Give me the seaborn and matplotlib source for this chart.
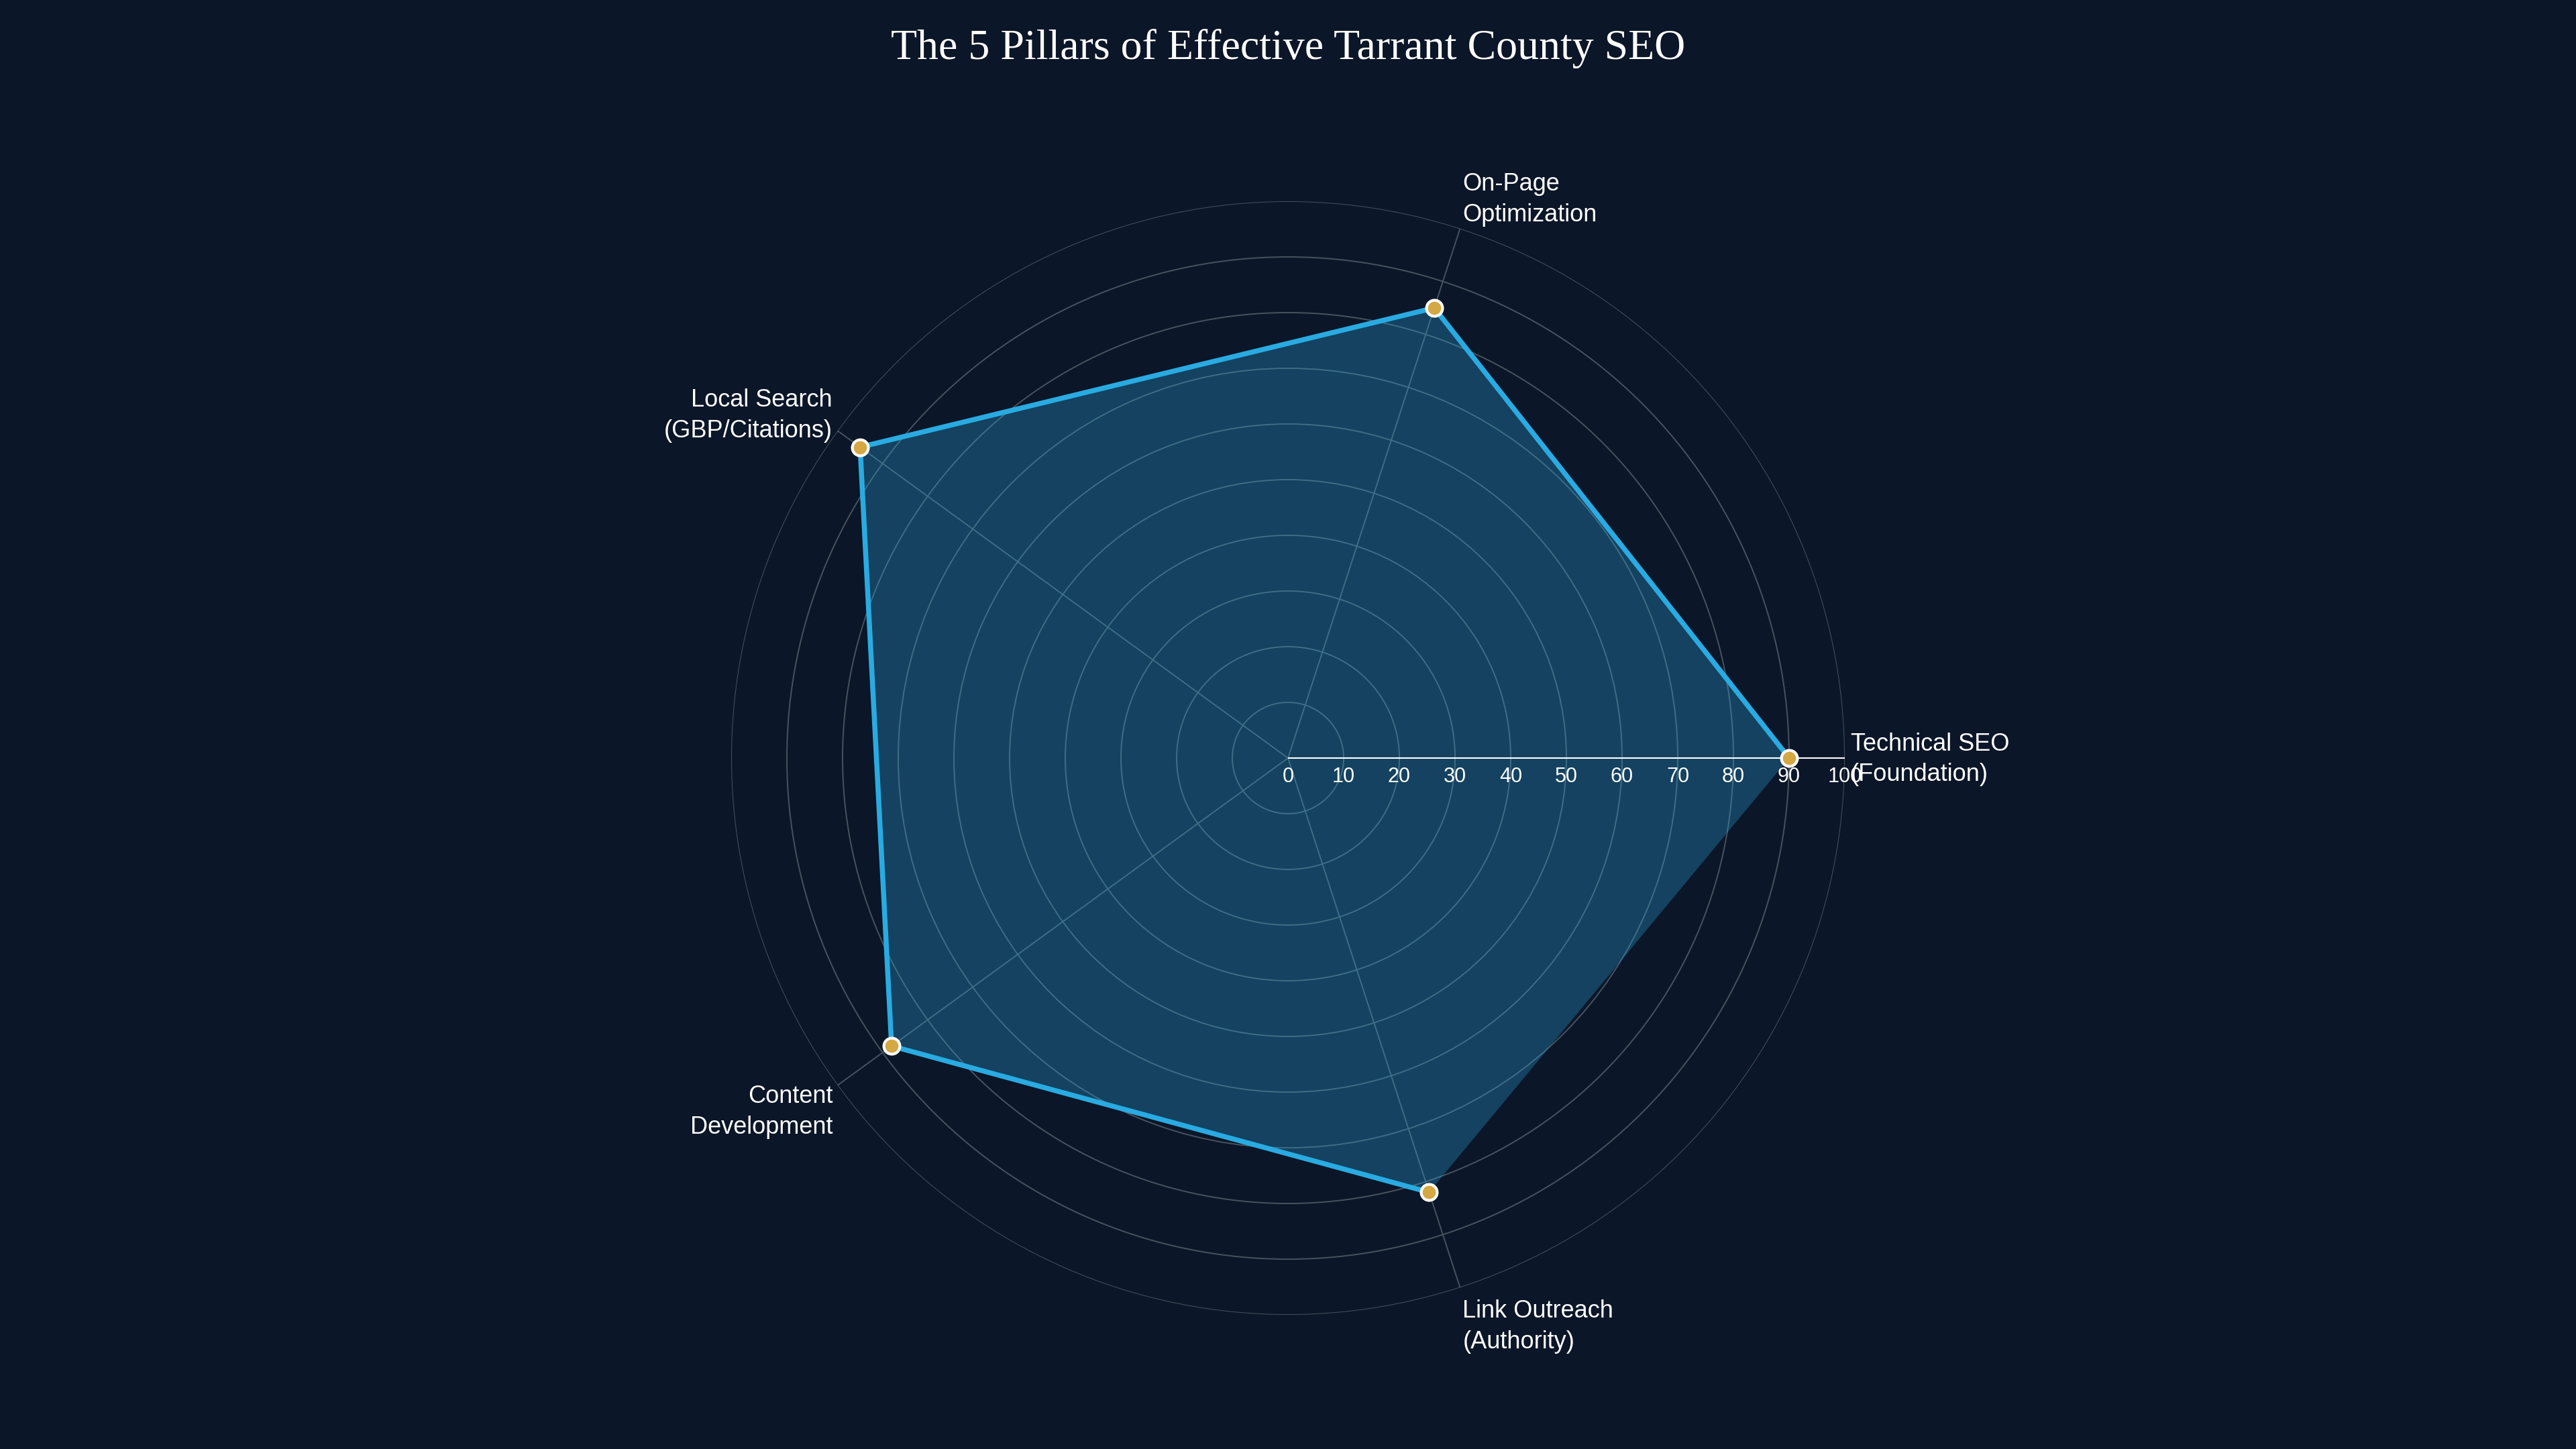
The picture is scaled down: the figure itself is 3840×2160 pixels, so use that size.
import numpy as np
import pandas as pd
import matplotlib
matplotlib.use("Agg")
import matplotlib.pyplot as plt
import seaborn as sns

# ---------------- data ----------------
categories = [
    "Technical SEO\n(Foundation)",
    "On-Page\nOptimization",
    "Local Search\n(GBP/Citations)",
    "Content\nDevelopment",
    "Link Outreach\n(Authority)",
]
scores = [90, 85, 95, 88, 82]
radial_ticks = [0, 10, 20, 30, 40, 50, 60, 70, 80, 90, 100]
title = "The 5 Pillars of Effective Tarrant County SEO"

# ---------------- style ----------------
BG = "#0b1628"
LINE = "#29abe2"
GOLD = "#d4a843"
GRID = "#48535f"

sns.set_theme(style="dark", rc={"axes.facecolor": BG, "figure.facecolor": BG})
plt.rcParams["font.family"] = ["Liberation Sans", "DejaVu Sans"]

W, H = 3840, 2160
fig = plt.figure(figsize=(W / 100, H / 100), dpi=100, facecolor=BG)
cx, cy, R = 1920, 1130, 830
ax = fig.add_axes([(cx - R) / W, (H - cy - R) / H, 2 * R / W, 2 * R / H],
                  projection="polar", facecolor=BG)

n = len(categories)
theta = np.deg2rad(np.arange(n) * 360.0 / n)
df = pd.DataFrame({"theta": theta, "score": scores, "category": categories})

ax.set_ylim(0, 100)
ax.set_xticks(theta)
ax.set_xticklabels([])
ax.set_yticks(radial_ticks)
ax.set_yticklabels([])
ax.tick_params(length=0, pad=0)
ax.grid(True, color=GRID, linewidth=1.4)
ax.spines["polar"].set_visible(False)
ax.set_axisbelow(True)

# filled area (closed polygon)
ax.fill(df["theta"], df["score"], color=LINE, alpha=0.3, linewidth=0, zorder=2)

# outline (not closed)
sns.lineplot(data=df, x="theta", y="score", sort=False, estimator=None,
             color=LINE, linewidth=5.4, ax=ax, zorder=3)

# radial axis line
ax.plot([0, 0], [0, 100], color="white", linewidth=1.5, zorder=4, solid_capstyle="butt")

# markers
sns.scatterplot(data=df, x="theta", y="score", s=295, color=GOLD,
                edgecolor="white", linewidth=3.0, ax=ax, zorder=5, clip_on=False)
ax.set_xlabel("")
ax.set_ylabel("")

# radial tick labels below the axis line
for r in radial_ticks:
    ax.annotate(str(r), xy=(0, r), xytext=(0, -28), textcoords="offset pixels",
                ha="center", va="center", color="white", fontsize=22, zorder=6)

# category labels
label_style = [
    ("left", "center", 9, -2),
    ("left", "bottom", 4, 3),
    ("right", "bottom", -8, -18),
    ("right", "top", -7, 1),
    ("left", "top", 4, -18),
]
for t, lab, (ha, va, dx, dy) in zip(theta, categories, label_style):
    ax.annotate(lab, xy=(t, 100), xytext=(dx, dy), textcoords="offset pixels",
                ha=ha, va=va, color="white", fontsize=26, linespacing=1.4,
                annotation_clip=False, zorder=6)

fig.text(0.5, 1 - 88 / H, title, ha="center", va="baseline", color="white",
         fontsize=46, family=["Liberation Serif", "DejaVu Serif"])

fig.savefig("out.png", dpi=100, facecolor=BG)
